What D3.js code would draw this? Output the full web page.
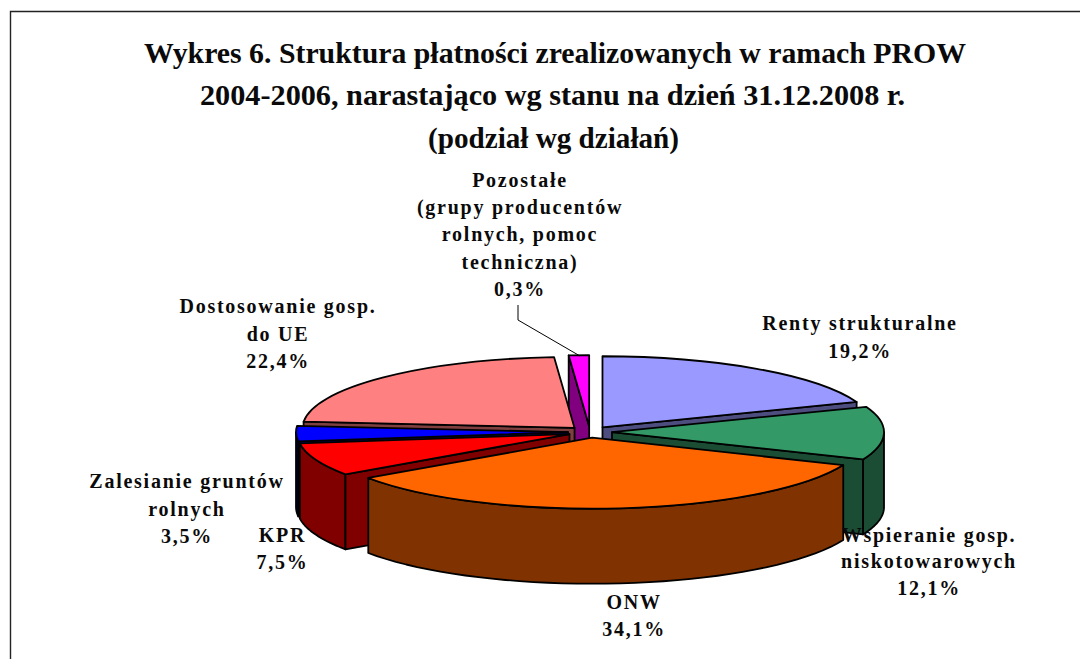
<!DOCTYPE html>
<html><head><meta charset="utf-8">
<script src="https://cdn.jsdelivr.net/npm/d3@7"></script>
<style>
html,body{margin:0;padding:0;background:#fff}
svg{display:block}
text{font-family:"Liberation Serif",serif;font-weight:bold;fill:#0a0a0a}
</style></head><body>
<svg id="c" width="1080" height="659"></svg>
<script>
const titleLines = ["Wykres 6. Struktura płatności zrealizowanych w ramach PROW","2004-2006, narastająco wg stanu na dzień 31.12.2008 r.","(podział wg działań)"];
const categories = ["Renty strukturalne","Wspieranie gosp. niskotowarowych","ONW","KPR","Zalesianie gruntów rolnych","Dostosowanie gosp. do UE","Pozostałe"];
// wedge sizes as drawn in the picture (the last wedge is drawn wider than its printed 0,3%)
const values = [19.2,12.1,34.1,7.5,3.5,22.4,1.2];
const topColors = ["#9999ff","#339966","#ff6600","#ff0000","#0000ff","#ff8080","#ff00ff"];
const labelLines = [
 ["Renty strukturalne","19,2%"],
 ["Wspieranie gosp.","niskotowarowych","12,1%"],
 ["ONW","34,1%"],
 ["KPR","7,5%"],
 ["Zalesianie gruntów","rolnych","3,5%"],
 ["Dostosowanie gosp.","do UE","22,4%"],
 ["Pozostałe","(grupy producentów","rolnych, pomoc","techniczna)","0,3%"]
];
const labelAnchor = [[860,330],[929,541.5],[634,609],[282.5,542],[187,488],[278,313],[520,187]];
const lineGap = [27.5,26.7,27,26.5,27.5,27.5,27.2];
const paintOrder = [6,5,0,4,1,3,2];

const cx=590, cy=432, rx=272, ry=71, depth=75, explode=22;
const svg=d3.select("#c");
svg.append("path").attr("d","M10.5 659V11.5H1080").attr("fill","none").attr("stroke","#222").attr("stroke-width",1.4);

const titleWidth=[822,705,251], titleX=[555,552.5,553.5], titleY=[63,105,148];
const title=svg.append("g").attr("text-anchor","middle");
titleLines.forEach((t,i)=>title.append("text").attr("x",titleX[i]).attr("y",titleY[i]).attr("font-size",30)
  .attr("textLength",titleWidth[i]).attr("lengthAdjust","spacingAndGlyphs").text(t));

const arcs=d3.pie().sort(null).value(d=>d)(values);
const project=a=>[rx*Math.sin(a),-ry*Math.cos(a)];
const line=d3.line();
const arcGen=d3.arc().innerRadius(0).outerRadius(rx);
const pie=svg.append("g");
const sample=(a0,a1)=>d3.range(0,41).map(i=>a0+(a1-a0)*i/40);
const wallColor=c=>{const k=d3.rgb(c);return d3.rgb(k.r/2,k.g/2,k.b/2).formatHex();};

paintOrder.forEach(i=>{
  const d=arcs[i], mid=(d.startAngle+d.endAngle)/2;
  const ox=cx+explode*Math.sin(mid), oy=cy-explode*(ry/rx)*Math.cos(mid);
  const g=pie.append("g").attr("transform",`translate(${ox},${oy})`)
    .attr("stroke","#000").attr("stroke-width",1.8).attr("stroke-linejoin","round");
  const dark=wallColor(topColors[i]);
  const lo=Math.max(d.startAngle,Math.PI/2), hi=Math.min(d.endAngle,Math.PI*1.5);
  if(hi>lo){
    const s=sample(lo,hi).map(project);
    const pts=s.concat(s.slice().reverse().map(p=>[p[0],p[1]+depth]));
    g.append("path").attr("fill",dark).attr("d",line(pts)+"Z");
  }
  // only the cut faces turned towards the viewer are drawn
  [[d.startAngle,-1],[d.endAngle,1]].forEach(([a,side])=>{
    if(side*Math.sin(a)<=0) return;
    const p=project(a);
    g.append("path").attr("fill",dark).attr("d",line([[0,0],p,[p[0],p[1]+depth],[0,depth]])+"Z");
  });
  g.append("path").attr("fill",topColors[i]).attr("d",arcGen(d))
    .attr("transform",`scale(1,${ry/rx})`).attr("vector-effect","non-scaling-stroke");
});

svg.append("path").attr("d",line([[518,305],[518,320],[580,356]])).attr("fill","none").attr("stroke","#000").attr("stroke-width",1);

const labels=svg.append("g").attr("text-anchor","middle").attr("font-size",20).style("letter-spacing","1.75px");
labelLines.forEach((ls,i)=>ls.forEach((t,j)=>labels.append("text")
  .attr("x",labelAnchor[i][0]).attr("y",labelAnchor[i][1]+j*lineGap[i]).text(t)));
</script></body></html>
